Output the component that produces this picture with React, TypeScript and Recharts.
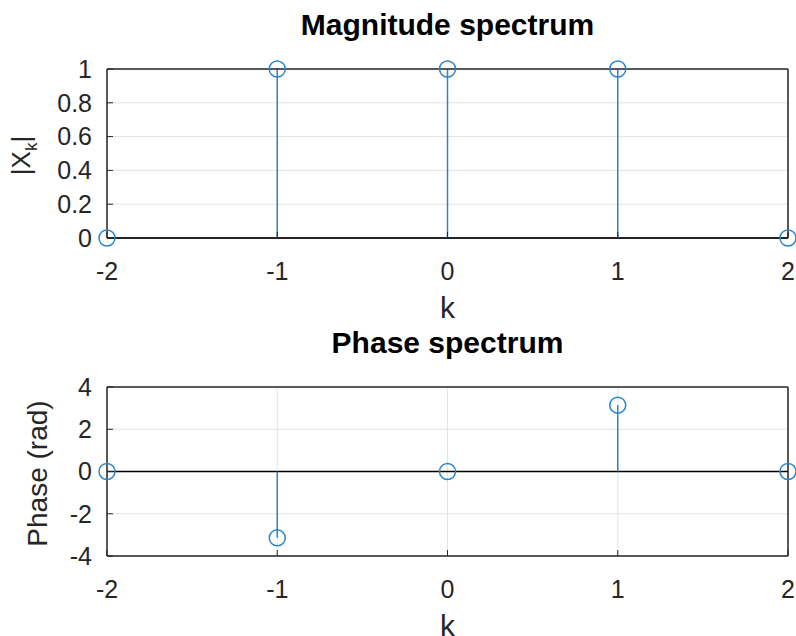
import React from 'react';
import { ComposedChart, Scatter, XAxis, YAxis, CartesianGrid, ReferenceLine, ReferenceArea } from 'recharts';

// frequency bins
const ks = [-2, -1, 0, 1, 2];
// |X_k|
const magnitude = [0, 1, 1, 1, 0];
// phase in radians
const phase = [0, -3.1416, 0, 3.1416, 0];

const magTicks = [0, 0.2, 0.4, 0.6, 0.8, 1];
const phaseTicks = [-4, -2, 0, 2, 4];

const BLUE = '#2a85cc';
const INK = '#262626';
const FONT = '"Liberation Sans", Arial, sans-serif';

type PanelProps = {
  title: string;
  values: number[];
  yDomain: [number, number];
  yTicks: number[];
  yLabel: React.ReactNode;
  yLabelX: number;
  top: number;
};

const StemPanel: React.FC<PanelProps> = ({ title, values, yDomain, yTicks, yLabel, yLabelX, top }) => {
  const rows = ks.map((k, i) => ({ k, v: values[i] }));

  return (
    <div style={{ position: 'absolute', left: 0, top }}>
      <ComposedChart width={796} height={330} data={rows} margin={{ top: 68, right: 7, bottom: 12, left: 0 }}>
        <CartesianGrid xAxisId="b" yAxisId="l" stroke="#e3e3e3" />
        <XAxis
          xAxisId="b"
          dataKey="k"
          type="number"
          domain={[-2, 2]}
          ticks={ks}
          height={80}
          tickSize={-6}
          tickMargin={30}
          stroke={INK}
          tick={{ fill: INK, fontSize: 25 }}
          label={{ value: 'k', position: 'insideBottom', offset: 0, fill: INK, fontSize: 30 }}
        />
        <XAxis
          xAxisId="t"
          orientation="top"
          type="number"
          domain={[-2, 2]}
          ticks={ks}
          height={1}
          tickSize={-6}
          tick={false}
          stroke={INK}
        />
        <YAxis
          yAxisId="l"
          type="number"
          domain={yDomain}
          ticks={yTicks}
          width={107}
          tickSize={-6}
          tickMargin={21}
          stroke={INK}
          tick={{ fill: INK, fontSize: 25 }}
          label={{
            content: (p: any) => {
              const vb = p.viewBox || {};
              const cy = vb.y + vb.height / 2 + 2;
              return (
                <text
                  x={yLabelX}
                  y={cy}
                  transform={`rotate(-90, ${yLabelX}, ${cy})`}
                  textAnchor="middle"
                  fill={INK}
                  fontSize={28}
                >
                  {yLabel}
                </text>
              );
            },
          }}
        />
        <YAxis
          yAxisId="r"
          orientation="right"
          type="number"
          domain={yDomain}
          ticks={yTicks}
          width={1}
          tickSize={-6}
          tick={false}
          stroke={INK}
        />
        <ReferenceArea
          xAxisId="b"
          yAxisId="l"
          x1={-2}
          x2={2}
          y1={yDomain[0]}
          y2={yDomain[1]}
          fill="none"
          fillOpacity={0}
          stroke={INK}
          strokeWidth={1}
          label={{ value: title, position: 'top', offset: 34, fill: '#000', fontSize: 30, fontWeight: 'bold' }}
        />
        <ReferenceLine xAxisId="b" yAxisId="l" y={0} stroke="#000" strokeWidth={1.3} />
        {rows
          .filter((r) => r.v !== 0)
          .map((r) => (
            <ReferenceLine
              key={r.k}
              xAxisId="b"
              yAxisId="l"
              segment={[
                { x: r.k, y: 0 },
                { x: r.k, y: r.v },
              ]}
              stroke={BLUE}
              strokeWidth={1.5}
            />
          ))}
        <Scatter
          xAxisId="b"
          yAxisId="l"
          dataKey="v"
          isAnimationActive={false}
          shape={(p: any) => <circle cx={p.cx} cy={p.cy} r={8} fill="none" stroke={BLUE} strokeWidth={1.5} />}
        />
      </ComposedChart>
    </div>
  );
};

export default function App() {
  return (
    <div
      style={{
        position: 'absolute',
        left: 0,
        top: 0,
        width: 796,
        height: 636,
        overflow: 'hidden',
        background: '#fff',
        fontFamily: FONT,
      }}
    >
      <StemPanel
        top={0}
        title="Magnitude spectrum"
        values={magnitude}
        yDomain={[0, 1]}
        yTicks={magTicks}
        yLabelX={30}
        yLabel={
          <>
            <tspan fontSize={26}>|X</tspan>
            <tspan fontSize={17} dy={7}>k</tspan>
            <tspan fontSize={26} dy={-7}>|</tspan>
          </>
        }
      />
      <StemPanel
        top={318}
        title="Phase spectrum"
        values={phase}
        yDomain={[-4, 4]}
        yTicks={phaseTicks}
        yLabelX={47}
        yLabel="Phase (rad)"
      />
    </div>
  );
}
